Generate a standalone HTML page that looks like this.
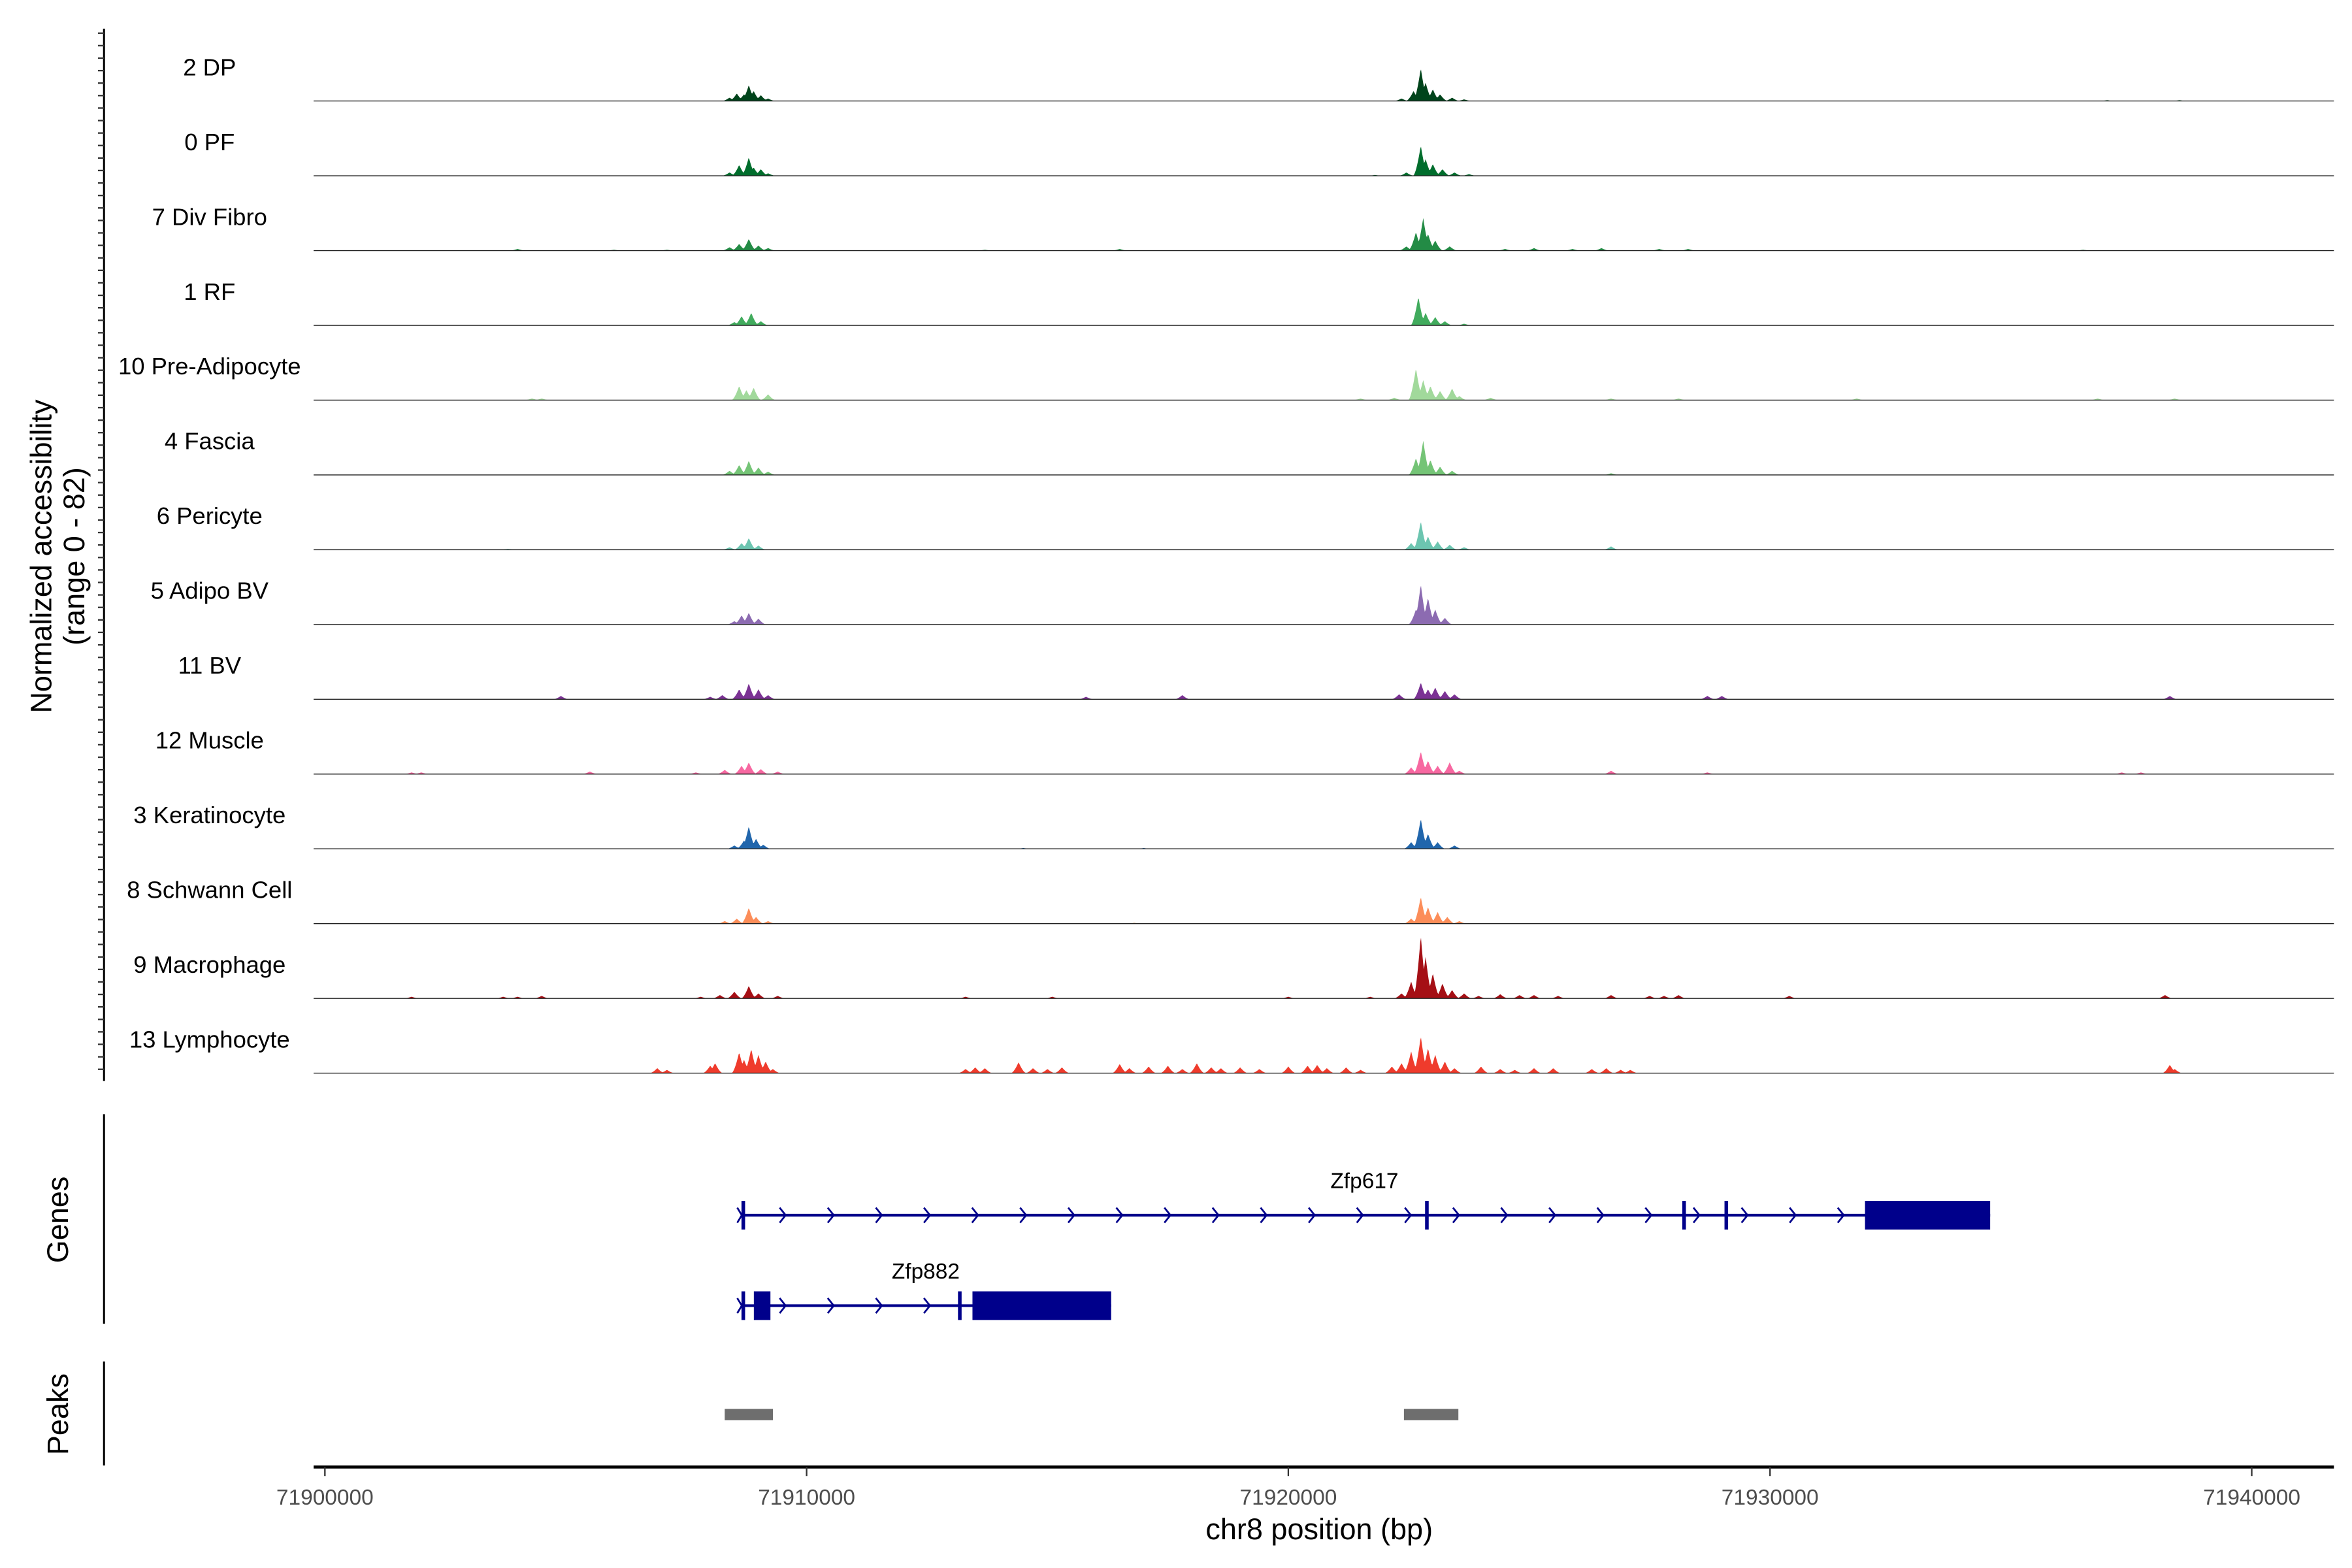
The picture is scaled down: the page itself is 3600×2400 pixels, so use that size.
<!DOCTYPE html>
<html><head><meta charset="utf-8"><style>
html,body{margin:0;padding:0;background:#fff}
svg{display:block}
text{font-family:"Liberation Sans",sans-serif}
</style></head><body>
<svg id="chart" width="3600" height="2400" viewBox="0 0 1560 1040" preserveAspectRatio="none" xmlns="http://www.w3.org/2000/svg">
<rect x="0" y="0" width="1560" height="1040" fill="#fff"/>
<g id="tracks"></g>
<g id="axes"></g>
<g id="genes"></g>
<g id="peaks"></g>
</svg>
<script>
const trackNames = ["2 DP","0 PF","7 Div Fibro","1 RF","10 Pre-Adipocyte","4 Fascia","6 Pericyte","5 Adipo BV","11 BV","12 Muscle","3 Keratinocyte","8 Schwann Cell","9 Macrophage","13 Lymphocyte"];
const trackColors = ["#00441b","#006d2c","#238b45","#41ab5d","#a1d99b","#74c476","#6cc5b0","#8c6bb1","#7b3294","#f768a1","#2166ac","#fc8d59","#a50f15","#ef3b2c"];
const xTicks = [71900000,71910000,71920000,71930000,71940000];
const peakStarts = [71908300,71922400];
const peakEnds = [71909300,71923530];
const covDP = [[71908400,4],[71908550,9],[71908700,8],[71908800,19],[71908900,12],[71909050,7],[71909200,3],[71922350,3],[71922600,12],[71922750,39],[71922850,22],[71923000,14],[71923150,8],[71923400,4],[71923650,2],[71937000,1],[71938500,1]];
const covPF = [[71908400,4],[71908600,13],[71908800,22],[71908900,10],[71909050,8],[71909200,3],[71921800,1],[71922450,4],[71922750,36],[71922850,20],[71923000,14],[71923200,8],[71923450,4],[71923750,2]];
const covDiv = [[71904000,2],[71906000,1],[71907100,1],[71908400,4],[71908600,8],[71908800,14],[71909000,6],[71909200,3],[71913700,1],[71916500,2],[71922450,5],[71922650,22],[71922800,39],[71922900,20],[71923050,12],[71923350,5],[71924500,2],[71925100,3],[71925900,2],[71926500,3],[71927700,2],[71928300,2],[71936500,1]];
const covRF = [[71908500,4],[71908650,11],[71908850,15],[71909050,5],[71922700,34],[71922850,15],[71923050,10],[71923250,5],[71923650,2]];
const covPre = [[71904300,2],[71904500,2],[71908600,17],[71908750,12],[71908900,15],[71909200,7],[71921500,2],[71922200,3],[71922650,38],[71922800,24],[71922950,17],[71923150,11],[71923400,14],[71923550,5],[71924200,3],[71926700,2],[71928100,2],[71931800,2],[71936800,2],[71938400,2]];
const covFascia = [[71908400,5],[71908600,12],[71908800,17],[71909000,9],[71909200,4],[71922650,20],[71922800,41],[71922950,18],[71923150,10],[71923400,5],[71926700,2]];
const covPeri = [[71903800,1],[71908400,3],[71908650,8],[71908800,14],[71909000,5],[71922550,8],[71922750,34],[71922900,16],[71923100,10],[71923350,6],[71923650,3],[71926700,4]];
const covAdipoBV = [[71908500,4],[71908650,11],[71908800,14],[71909000,7],[71922650,18],[71922750,48],[71922900,32],[71923050,18],[71923250,8]];
const covBV = [[71904900,4],[71908000,3],[71908250,5],[71908600,12],[71908800,19],[71909000,12],[71909200,5],[71915800,3],[71917800,5],[71922300,6],[71922750,20],[71922900,12],[71923050,14],[71923250,10],[71923450,6],[71928700,4],[71929000,4],[71938300,4]];
const covMuscle = [[71901800,2],[71902000,2],[71905500,3],[71907700,2],[71908300,5],[71908650,10],[71908800,14],[71909050,6],[71909400,3],[71922550,8],[71922750,27],[71922900,16],[71923100,10],[71923350,14],[71923550,4],[71926700,4],[71928700,2],[71937300,2],[71937700,2]];
const covKera = [[71908500,4],[71908700,10],[71908800,27],[71908950,12],[71909100,5],[71914500,1],[71917000,1],[71922550,8],[71922750,36],[71922900,18],[71923100,8],[71923450,4]];
const covSchwann = [[71908300,3],[71908550,6],[71908800,19],[71908950,8],[71909200,3],[71916800,1],[71922550,6],[71922750,32],[71922900,20],[71923100,14],[71923300,8],[71923550,3]];
const covMacro = [[71901800,2],[71903700,2],[71904000,2],[71904500,3],[71907800,2],[71908200,4],[71908500,8],[71908800,15],[71909000,6],[71909400,3],[71913300,2],[71915100,2],[71920000,2],[71921700,2],[71922350,6],[71922550,20],[71922750,75],[71922850,50],[71923000,30],[71923200,18],[71923400,10],[71923650,6],[71923950,3],[71924400,5],[71924800,4],[71925100,4],[71925600,3],[71926700,4],[71927500,3],[71927800,3],[71928100,4],[71930400,3],[71938200,4]];
const covLymph = [[71906900,6],[71907100,4],[71908000,9],[71908100,12],[71908600,25],[71908700,16],[71908850,29],[71909000,22],[71909150,14],[71909300,5],[71913300,5],[71913500,7],[71913700,6],[71914400,13],[71914700,6],[71915000,5],[71915300,7],[71916500,11],[71916700,6],[71917100,8],[71917500,9],[71917800,5],[71918100,12],[71918400,7],[71918600,6],[71919000,7],[71919400,5],[71920000,8],[71920400,9],[71920600,10],[71920800,6],[71921200,7],[71921500,4],[71922150,8],[71922350,12],[71922550,26],[71922750,44],[71922900,30],[71923050,22],[71923250,14],[71923450,6],[71924000,8],[71924400,5],[71924700,4],[71925100,6],[71925500,6],[71926300,5],[71926600,6],[71926900,4],[71927100,4],[71938300,10],[71938400,5]];
const coverage = [covDP,covPF,covDiv,covRF,covPre,covFascia,covPeri,covAdipoBV,covBV,covMuscle,covKera,covSchwann,covMacro,covLymph];

const NS = "http://www.w3.org/2000/svg";
const X0 = 215.5, PXPER = 319.5/10000, XSTART = 71900000;
function xs(bp){ return X0 + (bp - XSTART) * PXPER; }
const BASE0 = 67, STEP = 49.6, YSCALE = 0.56;
function ys(i, v){ return BASE0 + i*STEP - v*YSCALE; }
function mk(tag, attrs, parent){ const e = document.createElementNS(NS, tag); for (const k in attrs) e.setAttribute(k, attrs[k]); parent.appendChild(e); return e; }

const tracks = document.getElementById('tracks');
const HALF = 160;
coverage.forEach((pts, i) => {
  const g = mk('g', {}, tracks);
  
  
  const lab = mk('text', {x:139, y:ys(i,0)-17, 'font-size':15.8, 'text-anchor':'middle', fill:'#000'}, g);
  lab.textContent = trackNames[i];
  
  
  let d = 'M208,' + ys(i,0);
  for (let x = 208; x <= 1548; x += 0.5) {
    const bp = XSTART + (x - X0) / PXPER;
    let v = 0;
    for (const p of pts) { const t = 1 - Math.abs(bp - p[0]) / HALF; if (t > 0) v = Math.max(v, p[1]*Math.pow(t,1.6)); }
    d += 'L' + x + ',' + ys(i,v).toFixed(2);
  }
  d += 'L1548,' + ys(i,0) + 'Z';
  const area = mk('path', {d:d, fill:trackColors[i], stroke:'none'}, g);
  
  
  const bl = mk('line', {x1:208, x2:1548, y1:ys(i,0), y2:ys(i,0), stroke:'#222', 'stroke-width':0.6}, g);
  
  
});

const axes = document.getElementById('axes');
const la = mk('line', {x1:69, x2:69, y1:19, y2:717, stroke:'#000', 'stroke-width':1.3}, axes);


for (let y = 22; y <= 717; y += 8.28) {
  const t = mk('line', {x1:65, x2:69, y1:y, y2:y, stroke:'#333', 'stroke-width':1}, axes);
  
  
}
const yt = mk('text', {transform:'translate(34,369) rotate(-90)', 'font-size':19.5, 'text-anchor':'middle', fill:'#000'}, axes);
yt.textContent = 'Normalized accessibility';


const yt2 = mk('text', {transform:'translate(56,369) rotate(-90)', 'font-size':19.5, 'text-anchor':'middle', fill:'#000'}, axes);
yt2.textContent = '(range 0 - 82)';


const ga = mk('line', {x1:69, x2:69, y1:739, y2:878, stroke:'#000', 'stroke-width':1.3}, axes);


const gt = mk('text', {transform:'translate(45,809) rotate(-90)', 'font-size':19.5, 'text-anchor':'middle', fill:'#000'}, axes);
gt.textContent = 'Genes';


const pa = mk('line', {x1:69, x2:69, y1:903, y2:972, stroke:'#000', 'stroke-width':1.3}, axes);


const pt = mk('text', {transform:'translate(45,938) rotate(-90)', 'font-size':19.5, 'text-anchor':'middle', fill:'#000'}, axes);
pt.textContent = 'Peaks';


const xa = mk('line', {x1:208, x2:1548, y1:973, y2:973, stroke:'#000', 'stroke-width':2}, axes);


xTicks.forEach(v => {
  const t = mk('line', {x1:xs(v), x2:xs(v), y1:973, y2:979, stroke:'#333', 'stroke-width':1}, axes);
  
  
  const l = mk('text', {x:xs(v), y:998, 'font-size':14.5, 'text-anchor':'middle', fill:'#4d4d4d'}, axes);
  l.textContent = String(v);
  
  
});
const xt = mk('text', {x:875, y:1021, 'font-size':19.5, 'text-anchor':'middle', fill:'#000'}, axes);
xt.textContent = 'chr8 position (bp)';



const genes = document.getElementById('genes');
const NAVY = '#00008b';
function gene(name, y, x1, x2, thin, boxes, chevEnd, labelX, labelY){
  const g = mk('g', {}, genes);
  
  
  mk('line', {x1:x1, x2:x2, y1:y, y2:y, stroke:NAVY, 'stroke-width':1.8}, g);
  mk('path', {d:`M${x1-3},${y-5}L${x1},${y}L${x1-3},${y+5}`, fill:'none', stroke:NAVY, 'stroke-width':1.2}, g);
  for (let cx = 519.6; cx < chevEnd; cx += 31.9) {
    mk('path', {d:`M${cx-2.5},${y-5}L${cx+1.5},${y}L${cx-2.5},${y+5}`, fill:'none', stroke:NAVY, 'stroke-width':1.2}, g);
  }
  thin.forEach(x => mk('rect', {x:x-1.2, y:y-9.5, width:2.4, height:19, fill:NAVY}, g));
  boxes.forEach(b => mk('rect', {x:b[0], y:y-9.5, width:b[1]-b[0], height:19, fill:NAVY}, g));
  const t = mk('text', {x:labelX, y:labelY, 'font-size':14.5, 'text-anchor':'middle', fill:'#000'}, g);
  t.textContent = name;
  
  
}
gene('Zfp617', 806, 492, 1320, [493, 946.4, 1117, 1145], [[1237,1320]], 1235, 905, 788);
gene('Zfp882', 866, 492, 737, [493, 636.6], [[500,511],[645,737]], 635, 614, 848);

const peaks = document.getElementById('peaks');
peakStarts.forEach((s, i) => {
  const r = mk('rect', {x:xs(s), y:934.5, width:xs(peakEnds[i])-xs(s), height:7.5, fill:'#6e6e6e'}, peaks);
  
  
});
</script>
</body></html>
